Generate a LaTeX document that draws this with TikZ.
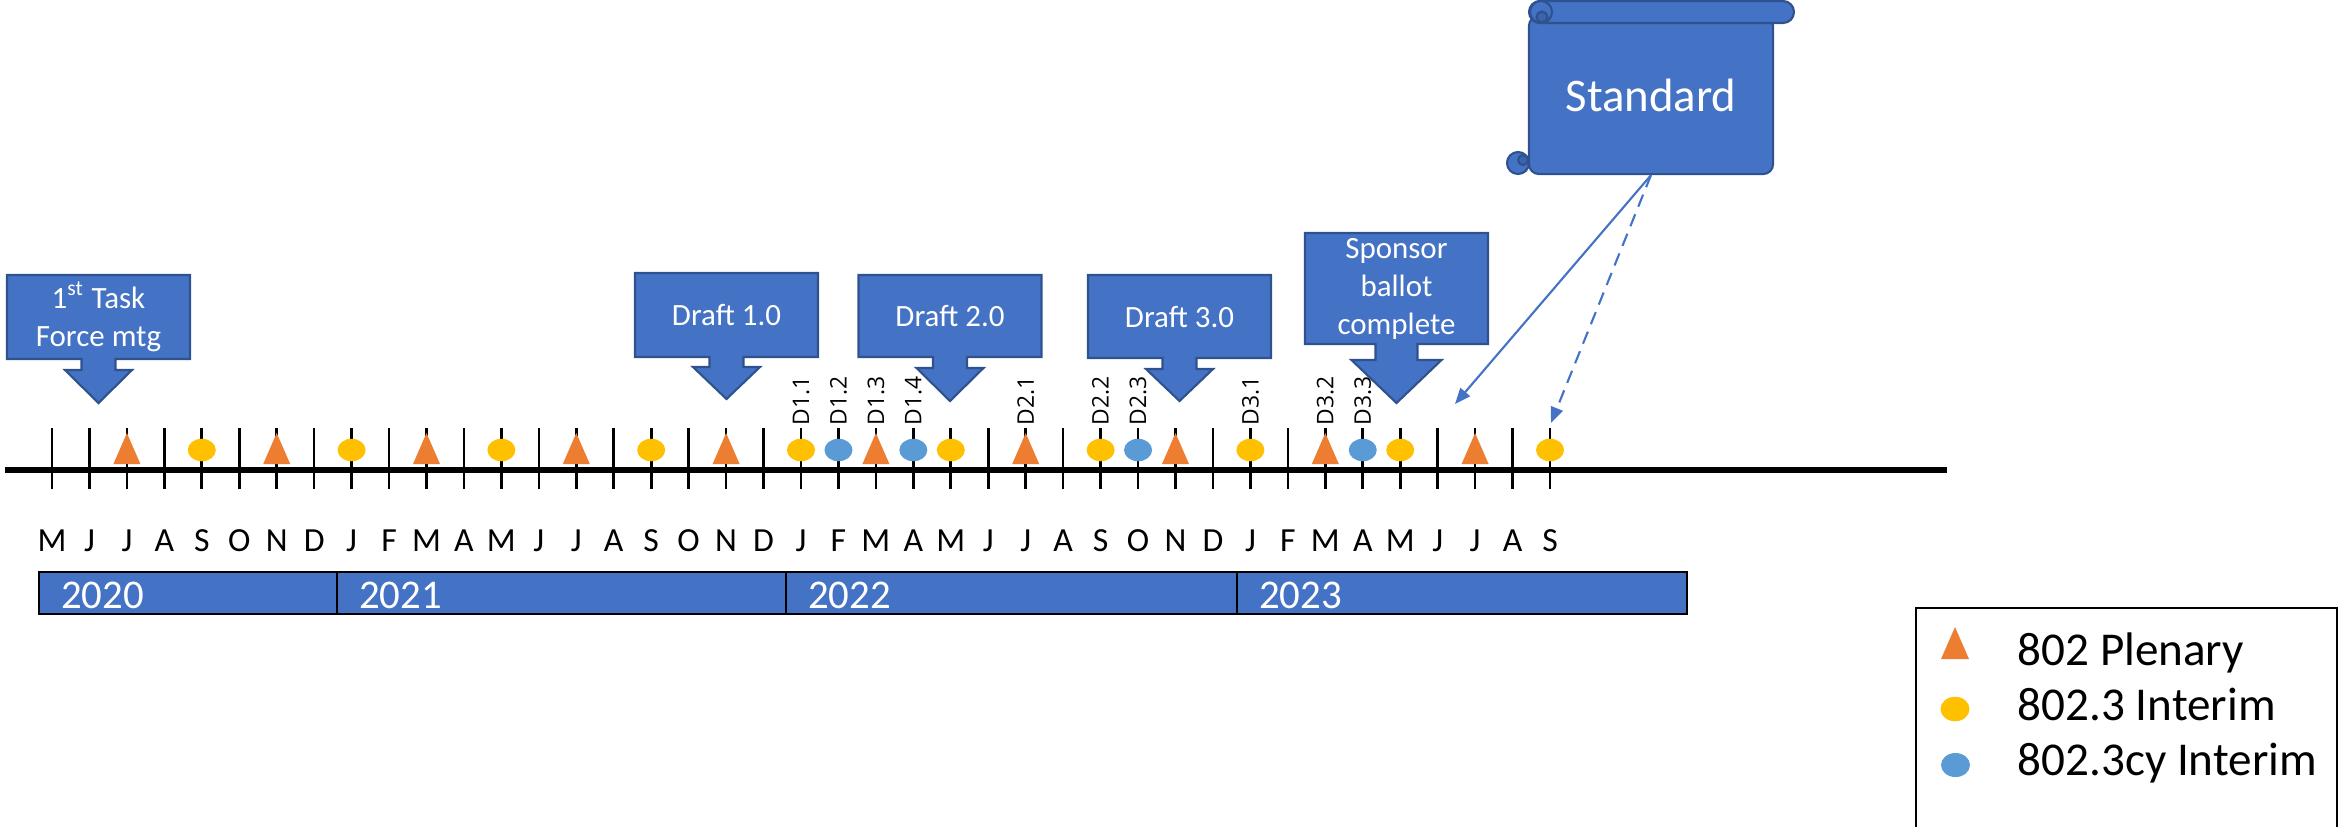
\documentclass[tikz,border=0pt]{standalone}
\usepackage{fontspec}
\setmainfont{Carlito}
\newfontfamily\dfont{Open Sans}
\usetikzlibrary{shapes.geometric,arrows.meta}

\definecolor{officeblue}{HTML}{4472C4}
\definecolor{officeedge}{HTML}{2F528F}
\definecolor{scrollshade}{HTML}{3B64AD}
\definecolor{plenorange}{HTML}{ED7D31}
\definecolor{interimgold}{HTML}{FFC000}
\definecolor{cyblue}{HTML}{5B9BD5}

% arrow callout: name, x, box top, box bottom, shaft half, head half, shaft bottom, tip, text
\newcommand{\downcallout}[9]{%
  \path[callbox] ({#2-91.5},#3) -- ({#2+91.5},#3) -- ({#2+91.5},#4) -- ({#2+#5},#4)
    -- ({#2+#5},#7) -- ({#2+#6},#7) -- (#2,#8) -- ({#2-#6},#7) -- ({#2-#5},#7)
    -- ({#2-#5},#4) -- ({#2-91.5},#4) -- cycle;
  \node[calltext] (#1) at (#2,{(#3+#4)/2}) {#9};}

\begin{document}
\begin{tikzpicture}[x=0.01cm, y=-0.01cm,
    mtick/.style={line width=0.75pt},
    axisline/.style={line width=1.7pt},
    plenary/.style={fill=plenorange},
    interim/.style={ellipse, fill=interimgold, minimum width=0.28cm, minimum height=0.225cm, inner sep=0pt},
    cyinterim/.style={interim, fill=cyblue},
    mlabel/.style={font=\fontsize{9.6}{11}\selectfont, anchor=base, inner sep=0pt},
    ylabel/.style={font=\fontsize{11.6}{13}\selectfont, text=white, anchor=base west, inner sep=0pt},
    yearbox/.style={fill=officeblue, draw=black, line width=0.8pt},
    dlabel/.style={font=\dfont\fontsize{6.5}{7}\selectfont, rotate=90, anchor=west, inner sep=0pt},
    callbox/.style={fill=officeblue, draw=officeedge, line width=0.6pt},
    calltext/.style={text=white, align=center, font=\fontsize{8.8}{10.8}\selectfont},
    link/.style={draw=officeblue, line width=0.6pt, -{Triangle[length=4.5pt, width=3.6pt]}},
    legtext/.style={font=\fontsize{13.4}{16}\selectfont, anchor=base west, inner sep=0pt}]
  \useasboundingbox (0,0) rectangle (2339,826);

  % timeline
  \foreach \i in {0,...,40}
    \draw[mtick] ({52+37.45*\i},428) -- ++(0,61);
  \draw[axisline] (5,470) -- (1947,470);

  \foreach \m [count=\i from 0] in {M,J,J,A,S,O,N,D,J,F,M,A,M,J,J,A,S,O,N,D,J,F,M,A,M,J,J,A,S,O,N,D,J,F,M,A,M,J,J,A,S}
    \node[mlabel] (mon\i) at ({52+37.45*\i},551) {\m};

  % meetings
  \foreach \i in {2,6,...,38}
    \fill[plenary] ({52+37.45*\i-13.5},464) -- ++(27,0) -- ++(-13.5,-31) -- cycle;
  \foreach \i in {4,8,...,40}
    \node[interim] (int\i) at ({52+37.45*\i},450) {};
  \foreach \i in {21,23,29,35}
    \node[cyinterim] (cy\i) at ({52+37.45*\i},450) {};

  % drafts
  \foreach \i/\d in {20/D1.1,21/D1.2,22/D1.3,23/D1.4,26/D2.1,28/D2.2,29/D2.3,32/D3.1,34/D3.2,35/D3.3}
    \node[dlabel] (d\i) at ({52+37.45*\i},426) {\d};

  % years
  \foreach \a/\b/\yr in {39/337/2020,337/786/2021,786/1237/2022,1237/1687/2023} {
    \draw[yearbox] (\a,572) rectangle (\b,614);
    \node[ylabel] (yr\yr) at (\a+21.5,608) {\yr};
  }

  % milestones
  \downcallout{task}{98.5}{275}{359}{17}{33.5}{370}{403}{1\textsuperscript{st} Task\\Force mtg}
  \downcallout{draft1}{726.5}{273}{357}{17}{33.5}{367}{399}{Draft 1.0}
  \downcallout{draft2}{950}{275}{357}{17}{33.5}{368}{401}{Draft 2.0}
  \downcallout{draft3}{1179.5}{275}{358}{17}{33.5}{369}{401}{Draft 3.0}
  \downcallout{sponsor}{1396.5}{233}{344}{21}{45}{360}{403}{Sponsor\\ballot\\complete}

  % standard scroll
  \node[callbox, rounded corners=0.1cm, minimum width=2.44cm, minimum height=1.58cm,
        calltext, font=\fontsize{13.3}{15}\selectfont] (std) at (1651,95) {Standard};
  \path[callbox, rounded corners=0.11cm] (1529,1) rectangle (1794,23);
  \path[callbox] (1541,12) circle (0.11cm);
  \path[fill=scrollshade, draw=officeedge, line width=0.6pt] (1542,17) circle (0.055cm);
  \path[callbox] (1518,163) circle (0.11cm);
  \path[fill=scrollshade, draw=officeedge, line width=0.6pt] (1523,160) circle (0.05cm);

  \coordinate (junend) at (1455,404);
  \coordinate (sepend) at (1551,423);
  \draw[link] (std.south) -- (junend);
  \draw[link, dash pattern=on 3.7pt off 2.3pt] (std.south) -- (sepend);

  % legend
  \draw[line width=0.7pt] (1916,608) rectangle (2337,830);
  \fill[plenary] (1941,659) -- ++(28,0) -- ++(-14,-32) -- cycle;
  \node[interim, minimum width=0.29cm, minimum height=0.245cm] (legint) at (1955,709) {};
  \node[cyinterim, minimum width=0.29cm, minimum height=0.24cm] (legcy) at (1955.5,765) {};
  \node[legtext] (legplen) at (2017,665) {802 Plenary};
  \node[legtext] (leginttext) at (2017,720) {802.3 Interim};
  \node[legtext] (legcytext) at (2017,775) {802.3cy Interim};
\end{tikzpicture}
\end{document}
